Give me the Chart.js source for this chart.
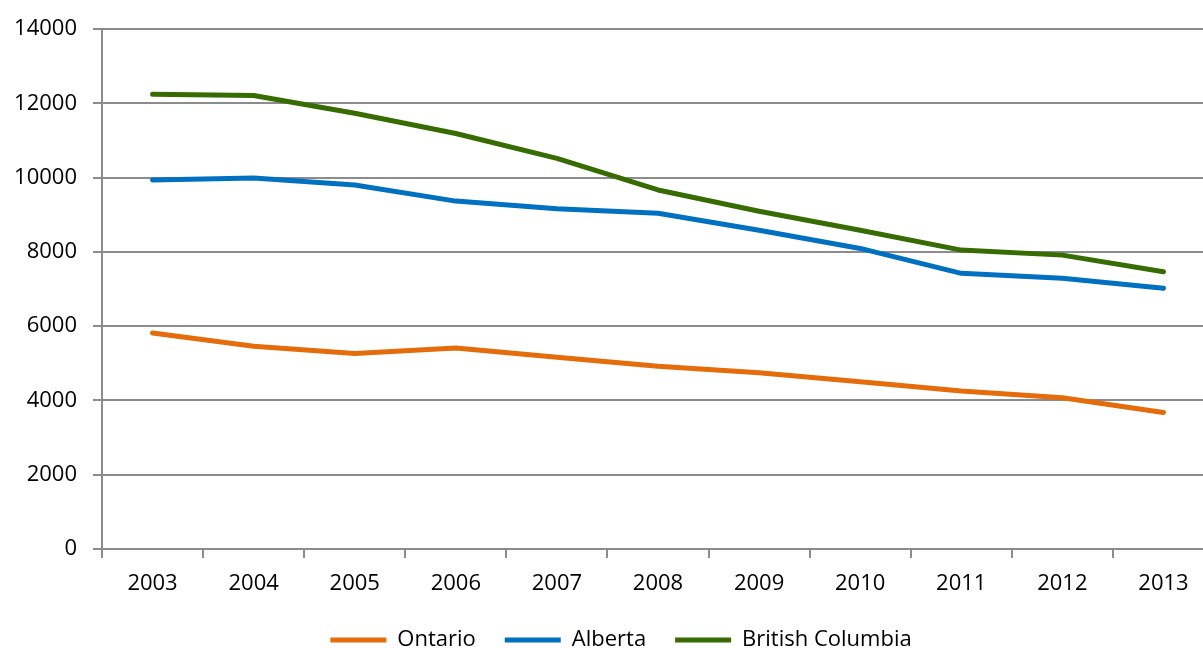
<!DOCTYPE html>
<html>
<head>
<meta charset="utf-8">
<script src="https://cdn.jsdelivr.net/npm/chart.js@4/dist/chart.umd.min.js"></script>
<style>
  html, body { margin: 0; padding: 0; background: #fff; overflow: hidden; }
  #wrap { width: 1214px; height: 670px; }
</style>
</head>
<body>
<div id="wrap"><canvas id="c" width="1214" height="670"></canvas></div>
<script>
const categories = ['2003','2004','2005','2006','2007','2008','2009','2010','2011','2012','2013'];
const ontario = [5820, 5460, 5265, 5415, 5165, 4925, 4750, 4505, 4255, 4075, 3675];
const alberta = [9940, 9990, 9805, 9370, 9165, 9045, 8585, 8095, 7425, 7290, 7020];
const britishColumbia = [12250, 12215, 11735, 11190, 10520, 9670, 9095, 8585, 8050, 7915, 7465];
const seriesNames = ['Ontario', 'Alberta', 'British Columbia'];
const yTicks = [0, 2000, 4000, 6000, 8000, 10000, 12000, 14000];

const colors = ['#E46C0A', '#0070C0', '#376C03'];
const FONT = '"Open Sans", "Liberation Sans", sans-serif';

function ds(label, data, color) {
  return {
    label, data,
    borderColor: color, backgroundColor: color,
    borderWidth: 5, borderCapStyle: 'round', borderJoinStyle: 'round',
    pointRadius: 0, pointHoverRadius: 0, tension: 0, fill: false
  };
}

const shiftLegend = {
  id: 'shiftLegend',
  afterLayout(chart) { if (chart.legend) { chart.legend.left += 28; } }
};

new Chart(document.getElementById('c'), {
  type: 'line',
  data: {
    labels: categories,
    datasets: [
      ds(seriesNames[0], ontario, colors[0]),
      ds(seriesNames[1], alberta, colors[1]),
      ds(seriesNames[2], britishColumbia, colors[2])
    ]
  },
  plugins: [shiftLegend],
  options: {
    responsive: false,
    animation: false,
    events: [],
    layout: { padding: { top: 22, left: 0, right: 0, bottom: 9 } },
    plugins: {
      tooltip: { enabled: false },
      legend: {
        position: 'bottom',
        labels: {
          usePointStyle: true,
          pointStyle: 'line',
          pointStyleWidth: 56,
          color: '#000',
          padding: 29,
          font: { family: FONT, size: 22 }
        }
      }
    },
    scales: {
      x: {
        offset: true,
        grid: { offset: true, drawOnChartArea: false, drawTicks: true, tickLength: 9, color: '#8C8C8C', lineWidth: 2 },
        border: { color: '#8C8C8C', width: 2 },
        ticks: { color: '#000', font: { family: FONT, size: 22 }, padding: 13, maxRotation: 0, autoSkip: false },
        afterFit: s => { s.height = 51; }
      },
      y: {
        min: 0, max: 14000,
        afterBuildTicks: s => { s.ticks = yTicks.map(v => ({ value: v })); },
        grid: { color: '#8C8C8C', lineWidth: 2, tickLength: 9 },
        border: { color: '#8C8C8C', width: 2 },
        ticks: { color: '#000', font: { family: FONT, size: 22 }, padding: 16, callback: v => String(v) },
        afterFit: s => { s.width = 102; }
      }
    }
  }
});
</script>
</body>
</html>
